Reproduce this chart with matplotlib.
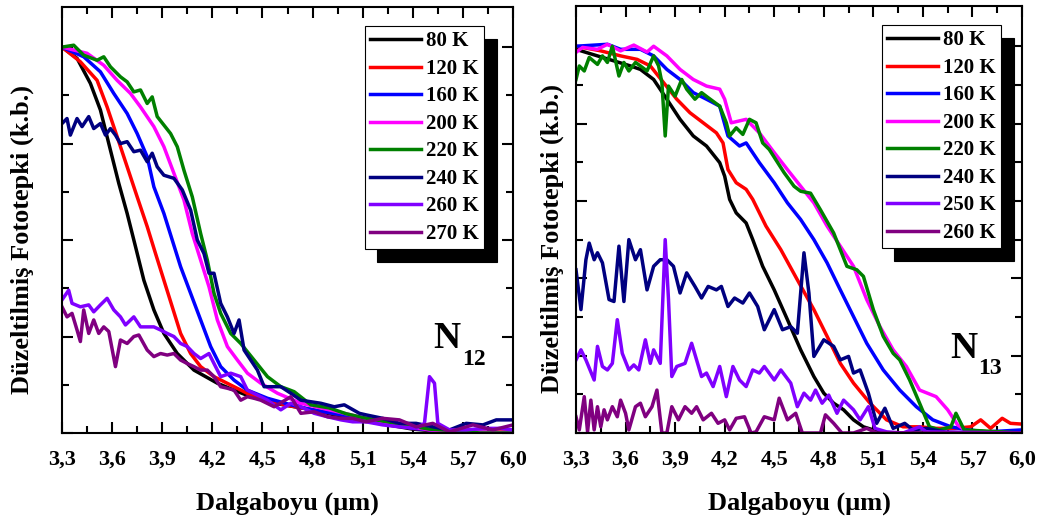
import numpy as np
import matplotlib
matplotlib.use("Agg")
import matplotlib.pyplot as plt
from matplotlib.ticker import FixedLocator, NullFormatter

plt.rcParams['font.family'] = ['Liberation Serif', 'DejaVu Serif']
plt.rcParams['font.weight'] = 'bold'

# Veriler (N12 numunesi)
n12_labels = ["80 K", "120 K", "160 K", "200 K", "220 K", "240 K", "260 K", "270 K"]
n12_x80 = [3.30, 3.39, 3.47, 3.53, 3.59, 3.64, 3.69, 3.74, 3.79, 3.85, 3.91, 3.99, 4.09, 4.23, 4.33, 4.43,
           4.6, 4.8, 5.0, 5.2, 5.4, 5.6, 5.8, 6.0]
n12_y80 = [1.00, 0.971, 0.906, 0.837, 0.733, 0.647, 0.569, 0.483, 0.396, 0.319, 0.258, 0.206, 0.163, 0.129, 0.111,
           0.094, 0.075, 0.060, 0.040, 0.025, 0.010, 0.003, 0.0, 0.0]
n12_x120 = [3.30, 3.41, 3.51, 3.57, 3.63, 3.69, 3.75, 3.81, 3.86, 3.91, 3.96, 4.01, 4.07, 4.13, 4.21, 4.33, 4.45,
            4.63, 4.8, 5.0, 5.2, 5.4, 5.6, 5.8, 6.0]
n12_y120 = [1.00, 0.962, 0.914, 0.845, 0.768, 0.690, 0.612, 0.535, 0.465, 0.396, 0.327, 0.258, 0.206, 0.172, 0.146,
            0.120, 0.094, 0.073, 0.060, 0.045, 0.030, 0.012, 0.004, 0.002, 0.003]
n12_x160 = [3.30, 3.43, 3.53, 3.61, 3.69, 3.75, 3.81, 3.85, 3.91, 3.96, 4.01, 4.07, 4.13, 4.19, 4.25, 4.33, 4.41,
            4.53, 4.67, 4.8, 5.0, 5.2, 5.4, 5.6, 6.0]
n12_y160 = [1.00, 0.975, 0.936, 0.880, 0.828, 0.776, 0.716, 0.638, 0.569, 0.500, 0.431, 0.362, 0.293, 0.224, 0.172,
            0.137, 0.111, 0.090, 0.073, 0.060, 0.045, 0.028, 0.012, 0.004, 0.0]
n12_x200 = [3.30, 3.45, 3.55, 3.63, 3.71, 3.77, 3.85, 3.91, 3.97, 4.03, 4.08, 4.13, 4.18, 4.23, 4.29, 4.35, 4.41,
            4.49, 4.59, 4.73, 4.9, 5.1, 5.3, 5.5, 5.7, 6.0]
n12_y200 = [1.00, 0.984, 0.953, 0.914, 0.880, 0.845, 0.794, 0.742, 0.673, 0.604, 0.517, 0.448, 0.379, 0.293, 0.224,
            0.189, 0.155, 0.129, 0.103, 0.077, 0.060, 0.040, 0.022, 0.008, 0.003, 0.0]
n12_x220 = [3.30, 3.37, 3.43, 3.51, 3.55, 3.59, 3.65, 3.69, 3.73, 3.77, 3.81, 3.84, 3.87, 3.95, 3.99, 4.03, 4.08,
            4.13, 4.17, 4.21, 4.25, 4.31, 4.37, 4.45, 4.53, 4.61, 4.66, 4.69, 4.79, 4.9, 5.0, 5.1, 5.3, 5.5, 5.7,
            5.8, 6.0]
n12_y220 = [1.00, 1.005, 0.979, 0.966, 0.975, 0.949, 0.923, 0.910, 0.884, 0.889, 0.854, 0.871, 0.820, 0.776, 0.742,
            0.681, 0.612, 0.517, 0.448, 0.362, 0.310, 0.258, 0.232, 0.189, 0.146, 0.120, 0.112, 0.107, 0.073, 0.065,
            0.050, 0.040, 0.025, 0.010, 0.005, 0.0, 0.0]
n12_x240 = [3.30, 3.33, 3.35, 3.39, 3.42, 3.46, 3.49, 3.53, 3.56, 3.59, 3.62, 3.65, 3.69, 3.73, 3.77, 3.81, 3.84,
            3.87, 3.91, 3.97, 4.02, 4.07, 4.11, 4.15, 4.18, 4.21, 4.25, 4.29, 4.33, 4.36, 4.39, 4.43, 4.47, 4.51,
            4.55, 4.61, 4.67, 4.73, 4.85, 4.93, 4.99, 5.08, 5.12, 5.22, 5.32, 5.42, 5.52, 5.62, 5.72, 5.82, 5.90, 6.0]
n12_y240 = [0.802, 0.815, 0.772, 0.815, 0.794, 0.820, 0.789, 0.802, 0.772, 0.789, 0.772, 0.750, 0.755, 0.729, 0.733,
            0.703, 0.725, 0.690, 0.668, 0.660, 0.630, 0.578, 0.500, 0.465, 0.414, 0.414, 0.336, 0.301, 0.258, 0.293,
            0.215, 0.189, 0.163, 0.120, 0.120, 0.120, 0.103, 0.085, 0.077, 0.068, 0.073, 0.051, 0.047, 0.038, 0.025,
            0.025, 0.016, 0.008, 0.025, 0.021, 0.034, 0.034]
n12_x260 = [3.30, 3.34, 3.36, 3.41, 3.46, 3.49, 3.53, 3.57, 3.61, 3.65, 3.68, 3.73, 3.77, 3.85, 3.89, 3.93, 3.97,
            4.01, 4.05, 4.09, 4.13, 4.18, 4.21, 4.25, 4.31, 4.37, 4.41, 4.47, 4.53, 4.61, 4.67, 4.73, 4.81, 4.89,
            4.97, 5.04, 5.12, 5.22, 5.32, 5.42, 5.47, 5.50, 5.53, 5.55, 5.62, 5.72, 5.82, 5.92, 6.0]
n12_y260 = [0.345, 0.370, 0.336, 0.327, 0.332, 0.314, 0.332, 0.349, 0.319, 0.301, 0.280, 0.301, 0.275, 0.275, 0.267,
            0.258, 0.250, 0.232, 0.224, 0.206, 0.193, 0.206, 0.180, 0.146, 0.155, 0.146, 0.111, 0.098, 0.085, 0.060,
            0.077, 0.068, 0.051, 0.042, 0.034, 0.029, 0.029, 0.021, 0.016, 0.012, 0.025, 0.146, 0.129, 0.025, 0.008,
            0.008, 0.012, 0.012, 0.008]
n12_x270 = [3.30, 3.33, 3.36, 3.39, 3.41, 3.43, 3.46, 3.49, 3.52, 3.55, 3.58, 3.62, 3.65, 3.69, 3.73, 3.76, 3.81,
            3.85, 3.89, 3.93, 3.97, 4.01, 4.05, 4.09, 4.13, 4.17, 4.21, 4.25, 4.29, 4.33, 4.37, 4.41, 4.45, 4.49,
            4.57, 4.67, 4.73, 4.81, 4.89, 4.97, 5.04, 5.12, 5.22, 5.32, 5.42, 5.52, 5.62, 5.76, 5.88, 6.0]
n12_y270 = [0.327, 0.301, 0.310, 0.267, 0.237, 0.319, 0.258, 0.293, 0.258, 0.275, 0.263, 0.172, 0.241, 0.232, 0.250,
            0.254, 0.215, 0.198, 0.206, 0.202, 0.206, 0.189, 0.180, 0.172, 0.163, 0.163, 0.146, 0.120, 0.116, 0.111,
            0.085, 0.094, 0.090, 0.085, 0.068, 0.094, 0.051, 0.055, 0.042, 0.038, 0.038, 0.029, 0.038, 0.034, 0.016,
            0.025, 0.003, 0.021, 0.008, 0.021]

# Veriler (N13 numunesi)
n13_labels = ["80 K", "120 K", "160 K", "200 K", "220 K", "240 K", "250 K", "260 K"]
n13_x80 = [3.30, 3.43, 3.53, 3.63, 3.69, 3.77, 3.85, 3.93, 4.01, 4.09, 4.17, 4.20, 4.23, 4.27, 4.33, 4.37, 4.43,
           4.50, 4.58, 4.66, 4.74, 4.80, 4.86, 4.92, 4.98, 5.04, 5.10, 5.18, 5.5, 6.0]
n13_y80 = [0.992, 0.975, 0.962, 0.949, 0.940, 0.914, 0.863, 0.811, 0.768, 0.742, 0.699, 0.664, 0.604, 0.569, 0.543,
           0.500, 0.431, 0.370, 0.293, 0.215, 0.146, 0.103, 0.077, 0.060, 0.034, 0.016, 0.008, 0.0, 0.0, 0.0]
n13_x120 = [3.30, 3.45, 3.57, 3.67, 3.75, 3.83, 3.91, 3.99, 4.07, 4.15, 4.19, 4.22, 4.27, 4.33, 4.37, 4.45, 4.54,
            4.64, 4.74, 4.82, 4.90, 4.98, 5.08, 5.18, 5.28, 5.38, 5.48, 5.59, 5.69, 5.75, 5.81, 5.88, 5.93, 6.0]
n13_y120 = [1.00, 0.988, 0.975, 0.966, 0.949, 0.906, 0.863, 0.828, 0.802, 0.776, 0.750, 0.681, 0.647, 0.630, 0.604,
            0.535, 0.474, 0.396, 0.319, 0.250, 0.180, 0.129, 0.077, 0.034, 0.016, 0.016, 0.012, 0.012, 0.016, 0.034,
            0.012, 0.038, 0.025, 0.023]
n13_x160 = [3.30, 3.49, 3.57, 3.69, 3.77, 3.85, 3.93, 4.01, 4.09, 4.17, 4.22, 4.29, 4.33, 4.41, 4.50, 4.58, 4.66,
            4.74, 4.82, 4.90, 4.98, 5.06, 5.16, 5.26, 5.36, 5.46, 5.57, 5.67, 5.79, 6.0]
n13_y160 = [1.00, 1.005, 0.992, 0.992, 0.975, 0.940, 0.914, 0.880, 0.863, 0.845, 0.768, 0.742, 0.750, 0.699, 0.647,
            0.595, 0.552, 0.500, 0.440, 0.370, 0.301, 0.232, 0.163, 0.111, 0.068, 0.034, 0.016, 0.008, 0.003, 0.008]
n13_x200 = [3.30, 3.34, 3.43, 3.49, 3.57, 3.65, 3.73, 3.77, 3.85, 3.93, 4.01, 4.09, 4.17, 4.20, 4.24, 4.33, 4.41,
            4.50, 4.58, 4.66, 4.74, 4.82, 4.90, 4.98, 5.06, 5.14, 5.22, 5.30, 5.38, 5.48, 5.55, 5.61, 5.67, 6.0]
n13_y200 = [0.984, 0.997, 0.992, 1.005, 0.988, 1.003, 0.985, 1.00, 0.975, 0.940, 0.914, 0.897, 0.889, 0.863, 0.802,
            0.811, 0.776, 0.725, 0.681, 0.638, 0.595, 0.535, 0.483, 0.431, 0.345, 0.275, 0.215, 0.172, 0.111, 0.094,
            0.060, 0.021, 0.003, 0.0]
n13_x220 = [3.30, 3.32, 3.35, 3.38, 3.43, 3.46, 3.49, 3.52, 3.56, 3.59, 3.62, 3.66, 3.69, 3.73, 3.77, 3.80, 3.82,
            3.84, 3.86, 3.90, 3.94, 3.97, 4.02, 4.06, 4.10, 4.17, 4.21, 4.23, 4.27, 4.31, 4.35, 4.39, 4.43, 4.47,
            4.56, 4.62, 4.66, 4.72, 4.78, 4.86, 4.94, 5.00, 5.04, 5.10, 5.16, 5.22, 5.26, 5.32, 5.38, 5.44, 5.50,
            5.57, 5.60, 5.65, 6.0]
n13_y220 = [0.914, 0.949, 0.936, 0.971, 0.953, 0.975, 0.958, 1.00, 0.923, 0.958, 0.936, 0.958, 0.949, 0.936, 0.975,
            0.949, 0.906, 0.768, 0.897, 0.871, 0.914, 0.889, 0.863, 0.880, 0.867, 0.845, 0.802, 0.768, 0.789, 0.772,
            0.811, 0.802, 0.750, 0.733, 0.673, 0.638, 0.625, 0.620, 0.577, 0.517, 0.431, 0.422, 0.405, 0.319, 0.250,
            0.206, 0.189, 0.137, 0.077, 0.016, 0.008, 0.016, 0.051, 0.008, 0.0]
n13_x240 = [3.30, 3.33, 3.36, 3.38, 3.41, 3.43, 3.46, 3.50, 3.53, 3.56, 3.59, 3.62, 3.66, 3.69, 3.73, 3.77, 3.81,
            3.85, 3.89, 3.93, 3.97, 4.02, 4.06, 4.10, 4.15, 4.18, 4.22, 4.26, 4.31, 4.35, 4.40, 4.44, 4.50, 4.55,
            4.60, 4.64, 4.68, 4.71, 4.74, 4.80, 4.86, 4.90, 4.95, 4.98, 5.02, 5.07, 5.12, 5.17, 5.22, 5.29, 5.34,
            5.42, 5.54, 5.69, 6.0]
n13_y240 = [0.422, 0.319, 0.448, 0.491, 0.448, 0.466, 0.440, 0.345, 0.340, 0.483, 0.340, 0.500, 0.448, 0.474, 0.370,
            0.431, 0.448, 0.448, 0.431, 0.362, 0.414, 0.379, 0.349, 0.379, 0.370, 0.379, 0.327, 0.349, 0.336, 0.362,
            0.327, 0.267, 0.319, 0.267, 0.275, 0.258, 0.466, 0.362, 0.198, 0.241, 0.224, 0.189, 0.198, 0.155, 0.163,
            0.103, 0.025, 0.064, 0.012, 0.025, 0.008, 0.012, 0.002, 0.0, 0.0]
n13_x250 = [3.30, 3.33, 3.36, 3.41, 3.43, 3.46, 3.49, 3.52, 3.55, 3.58, 3.62, 3.65, 3.68, 3.72, 3.75, 3.77, 3.81,
            3.84, 3.86, 3.88, 3.91, 3.96, 4.00, 4.06, 4.09, 4.13, 4.17, 4.21, 4.25, 4.29, 4.33, 4.37, 4.41, 4.44,
            4.50, 4.54, 4.60, 4.64, 4.68, 4.72, 4.75, 4.79, 4.83, 4.88, 4.92, 4.98, 5.02, 5.07, 5.11, 5.18, 5.28,
            5.38, 5.42, 6.0]
n13_y250 = [0.189, 0.215, 0.189, 0.137, 0.224, 0.172, 0.163, 0.180, 0.293, 0.206, 0.163, 0.176, 0.163, 0.241, 0.180,
            0.215, 0.180, 0.500, 0.345, 0.146, 0.172, 0.180, 0.232, 0.146, 0.155, 0.120, 0.172, 0.094, 0.172, 0.137,
            0.120, 0.163, 0.155, 0.172, 0.137, 0.163, 0.129, 0.068, 0.103, 0.085, 0.111, 0.077, 0.098, 0.051, 0.085,
            0.060, 0.034, 0.068, 0.012, 0.003, 0.0, 0.016, 0.003, 0.0]
n13_x260 = [3.30, 3.32, 3.35, 3.37, 3.39, 3.41, 3.43, 3.45, 3.47, 3.49, 3.52, 3.55, 3.57, 3.60, 3.62, 3.66, 3.69,
            3.72, 3.76, 3.79, 3.82, 3.85, 3.88, 3.92, 3.96, 4.00, 4.03, 4.07, 4.12, 4.16, 4.20, 4.23, 4.27, 4.32,
            4.36, 4.39, 4.44, 4.50, 4.53, 4.58, 4.63, 4.67, 4.78, 4.81, 4.86, 4.91, 4.98, 5.06, 5.12, 6.0]
n13_y260 = [0.042, 0.008, 0.094, 0.003, 0.085, 0.008, 0.068, 0.016, 0.060, 0.034, 0.068, 0.042, 0.085, 0.051, 0.008,
            0.068, 0.077, 0.042, 0.068, 0.111, 0.0, 0.0, 0.068, 0.034, 0.068, 0.051, 0.068, 0.034, 0.051, 0.025,
            0.034, 0.008, 0.038, 0.042, 0.0, 0.003, 0.042, 0.034, 0.090, 0.034, 0.051, 0.0, 0.0, 0.047, 0.025, 0.0,
            0.0, 0.012, 0.0, 0.0]

colors = ["#000000", "#ff0000", "#0000ff", "#ff00ff", "#008000", "#000080", "#8000ff", "#800080"]
xtick_vals = [3.3, 3.6, 3.9, 4.2, 4.5, 4.8, 5.1, 5.4, 5.7, 6.0]
xtick_labels = ["3,3", "3,6", "3,9", "4,2", "4,5", "4,8", "5,1", "5,4", "5,7", "6,0"]

n12_series = [(n12_x80, n12_y80), (n12_x120, n12_y120), (n12_x160, n12_y160), (n12_x200, n12_y200),
              (n12_x220, n12_y220), (n12_x240, n12_y240), (n12_x260, n12_y260), (n12_x270, n12_y270)]
n13_series = [(n13_x80, n13_y80), (n13_x120, n13_y120), (n13_x160, n13_y160), (n13_x200, n13_y200),
              (n13_x220, n13_y220), (n13_x240, n13_y240), (n13_x250, n13_y250), (n13_x260, n13_y260)]

W, H = 1049, 526
fig = plt.figure(figsize=(W / 100, H / 100), dpi=100)
ax1 = fig.add_axes([62 / W, 1 - 433 / H, 451 / W, 426 / H])
ax2 = fig.add_axes([576 / W, 1 - 433 / H, 446 / W, 427 / H])


def setup(ax, series, labels, ystep, ylab_x, bbox):
    for (x, y), c, lab in zip(series, colors, labels):
        ax.plot(x, y, color=c, lw=2.5, label=lab)
    ax.set_xlim(3.3, 6.0)
    ax.set_ylim(0, 1.104)
    ax.xaxis.set_major_locator(FixedLocator(xtick_vals))
    ax.set_xticklabels(xtick_labels)
    ax.xaxis.set_minor_locator(FixedLocator(list(np.arange(3.45, 6.0, 0.3))))
    ax.yaxis.set_major_locator(FixedLocator(list(np.arange(0, 1.05, ystep))))
    ax.yaxis.set_minor_locator(FixedLocator(list(np.arange(ystep / 2, 1.1, ystep))))
    ax.yaxis.set_major_formatter(NullFormatter())
    ax.tick_params(which='both', direction='in', top=True, right=True, width=1.5)
    ax.tick_params(which='major', length=8)
    ax.tick_params(which='minor', length=5)
    ax.tick_params(axis='x', which='major', labelsize=16, pad=12)
    for s in ax.spines.values():
        s.set_linewidth(1.5)
    ax.set_xlabel("Dalgaboyu (μm)", fontsize=19, fontweight='bold', labelpad=16)
    ax.set_ylabel("Düzeltilmiş Fototepki (k.b.)", fontsize=19, fontweight='bold')
    ax.yaxis.set_label_coords(ylab_x, 0.455)
    leg = ax.legend(loc='upper right', bbox_to_anchor=bbox, fontsize=15, frameon=True, fancybox=False,
                    edgecolor='black', framealpha=1, handlelength=2.45, handletextpad=0.25,
                    labelspacing=0.36, borderpad=0.25, borderaxespad=0,
                    shadow={'ox': 9, 'oy': -9, 'facecolor': 'black', 'edgecolor': 'black', 'alpha': 1})
    leg.get_frame().set_linewidth(0.8)


setup(ax1, n12_series, n12_labels, 0.25, -0.062, (0.936, 0.955))
setup(ax2, n13_series, n13_labels, 0.2, -0.027, (0.953, 0.955))

fig.text(433 / W, 1 - 348 / H, "N", fontsize=27, fontweight='bold', ha='left', va='baseline')
fig.text(462 / W, 1 - 365 / H, "12", fontsize=17, fontweight='bold', ha='left', va='baseline')
fig.text(950 / W, 1 - 358 / H, "N", fontsize=27, fontweight='bold', ha='left', va='baseline')
fig.text(978 / W, 1 - 374 / H, "13", fontsize=17, fontweight='bold', ha='left', va='baseline')

fig.savefig("out.png", dpi=100)
